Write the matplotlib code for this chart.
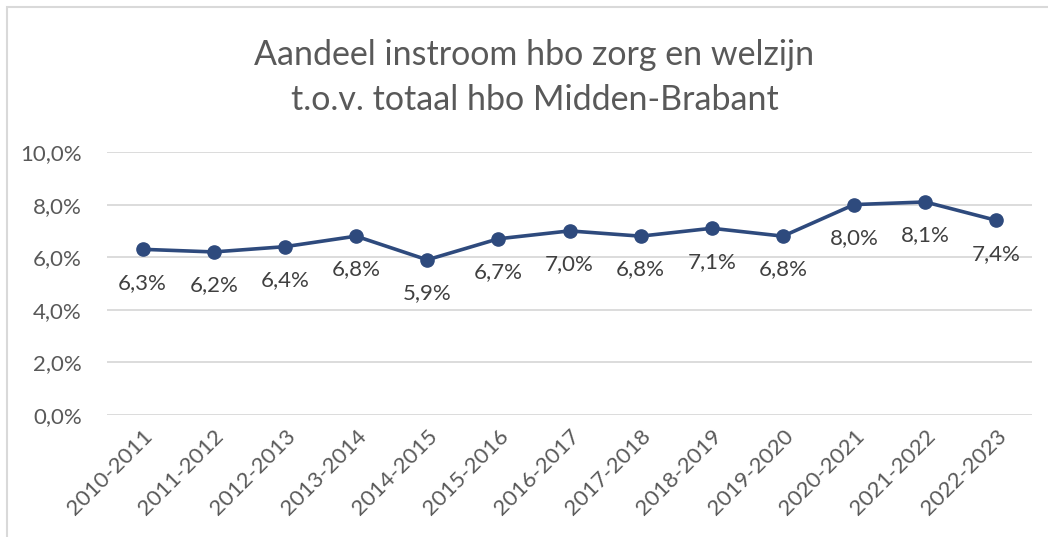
import matplotlib.pyplot as plt
from matplotlib.ticker import FuncFormatter
import matplotlib.patches as patches

plt.rcParams['font.family'] = ['Lato', 'DejaVu Sans']

# data
jaren = ["2010-2011", "2011-2012", "2012-2013", "2013-2014", "2014-2015",
         "2015-2016", "2016-2017", "2017-2018", "2018-2019", "2019-2020",
         "2020-2021", "2021-2022", "2022-2023"]
aandeel = [6.3, 6.2, 6.4, 6.8, 5.9, 6.7, 7.0, 6.8, 7.1, 6.8, 8.0, 8.1, 7.4]

grijs = "#595959"
lijn = "#2E4A7D"

fig = plt.figure(figsize=(10.48, 5.37), dpi=100)
ax = fig.add_axes([107 / 1048, 1 - 415 / 537, (1032 - 107) / 1048, (415 - 152) / 537])

x = list(range(len(jaren)))
ax.plot(x, aandeel, color=lijn, lw=2.6, marker="o", ms=9.5, zorder=3)

for xi, v in zip(x, aandeel):
    ax.annotate(f"{v:.1f}%".replace(".", ","), (xi, v), xytext=(0, -24),
                textcoords="offset points", ha="center", va="center",
                fontsize=16, color="#404040")

ax.set_ylim(0, 10)
ax.set_xlim(-0.5, 12.5)
ax.set_yticks([0, 2, 4, 6, 8, 10])
ax.yaxis.set_major_formatter(FuncFormatter(lambda v, p: f"{v:.1f}%".replace(".", ",")))
ax.set_xticks(x)
ax.set_xticklabels(jaren, rotation=45, ha="right", rotation_mode="anchor")
ax.tick_params(axis="both", length=0, colors=grijs, labelsize=16)
ax.tick_params(axis="y", pad=18)
ax.tick_params(axis="x", pad=8)
ax.grid(axis="y", color="#D9D9D9", lw=1.3)
ax.set_axisbelow(True)
for s in ax.spines.values():
    s.set_visible(False)

fig.text(0.51, 1 - 55 / 537, "Aandeel instroom hbo zorg en welzijn", ha="center",
         va="center", fontsize=24.5, color=grijs)
fig.text(0.51, 1 - 100 / 537, "t.o.v. totaal hbo Midden-Brabant", ha="center",
         va="center", fontsize=24.5, color=grijs)

# rand van de grafiek
fig.patches.append(patches.Rectangle((7 / 1048, -0.1), 1.2, 1 - 7 / 537 + 0.1,
                                     transform=fig.transFigure, fill=False,
                                     ec="#D9D9D9", lw=1.5))

fig.savefig("out.png", dpi=100)
